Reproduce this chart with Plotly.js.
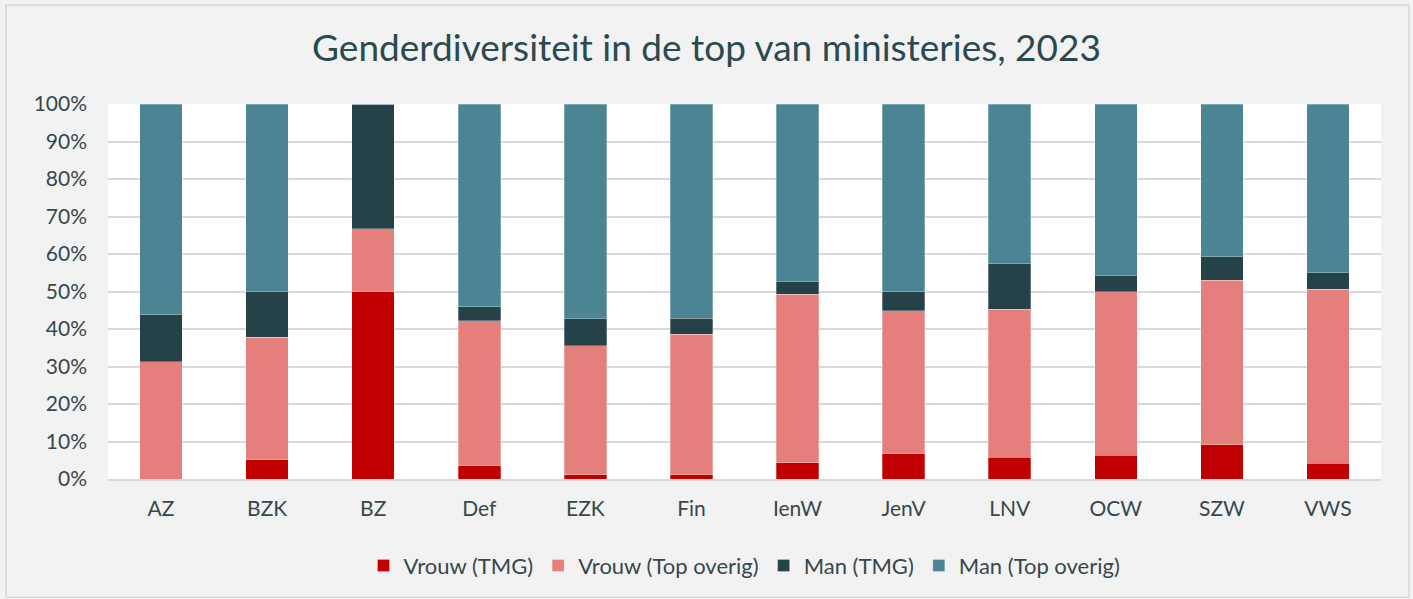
<!DOCTYPE html>
<html>
<head>
<meta charset="utf-8">
<script src="https://cdn.plot.ly/plotly-3.0.1.min.js"></script>
<style>
html,body{margin:0;padding:0;background:#f2f2f2;}
#chart{width:1413px;height:599px;}
</style>
</head>
<body>
<div id="chart"></div>
<script>
const categories = ["AZ","BZK","BZ","Def","EZK","Fin","IenW","JenV","LNV","OCW","SZW","VWS"];
const vrouwTMG      = [0.0, 5.2, 50.0, 3.6, 1.2, 1.2, 4.4, 6.8, 5.8, 6.3, 9.2, 4.2];
const vrouwOverig   = [31.25, 32.6, 16.7, 38.6, 34.4, 37.4, 44.9, 38.1, 39.5, 43.7, 43.8, 46.4];
const manTMG        = [12.5, 12.2, 33.3, 3.7, 7.1, 4.3, 3.5, 5.1, 12.1, 4.2, 6.3, 4.4];
const manOverig     = [56.25, 50.0, 0.0, 54.1, 57.3, 57.1, 47.2, 50.0, 42.6, 45.8, 40.7, 45.0];
const seriesNames = ["Vrouw (TMG)","Vrouw (Top overig)","Man (TMG)","Man (Top overig)"];
const seriesColors = ["#C00000","#E57F7C","#254249","#4B8593"];
const seriesData = [vrouwTMG, vrouwOverig, manTMG, manOverig];

const traces = seriesData.map((vals, i) => ({
  type: "bar",
  name: seriesNames[i],
  x: categories,
  y: vals.map(v => v / 100),
  marker: {color: seriesColors[i], line: {color: "rgba(255,255,255,0.35)", width: 0.8}},
  hoverinfo: "skip"
}));

const font = "Lato, 'Open Sans', sans-serif";
const layout = {
  width: 1413, height: 599,
  paper_bgcolor: "#f2f2f2",
  plot_bgcolor: "#ffffff",
  barmode: "stack",
  bargap: 0.6,
  margin: {l: 108, r: 32, t: 104, b: 120},
  title: {text: "Genderdiversiteit in de top van ministeries, 2023", x: 0.5, xanchor: "center", y: 0.92, yanchor: "middle",
          font: {family: font, size: 37, color: "#2b4a50"}},
  xaxis: {tickfont: {family: font, size: 21, color: "#37474c"}, showline: true, linecolor: "#d9d9d9", linewidth: 2, ticks: "", ticklabelstandoff: 10, fixedrange: true},
  yaxis: {range: [0, 1], tickformat: ".0%", dtick: 0.1, tickfont: {family: font, size: 21, color: "#37474c"},
          gridcolor: "#d9d9d9", gridwidth: 2, zeroline: false, ticks: "", ticklabelstandoff: 20, fixedrange: true},
  legend: {orientation: "h", x: 0.5, xanchor: "center", y: -0.175, yanchor: "top",
           font: {family: font, size: 22, color: "#37474c"}, traceorder: "normal", itemwidth: 30},
  shapes: [{type: "rect", xref: "paper", yref: "paper", x0: -0.0801, x1: 1.022, y0: -0.315, y1: 1.264,
            line: {color: "#d9d9d9", width: 1.5}, fillcolor: "rgba(0,0,0,0)", layer: "below"}],
  showlegend: true
};
Plotly.newPlot("chart", traces, layout, {displayModeBar: false, staticPlot: true});
</script>
</body>
</html>
